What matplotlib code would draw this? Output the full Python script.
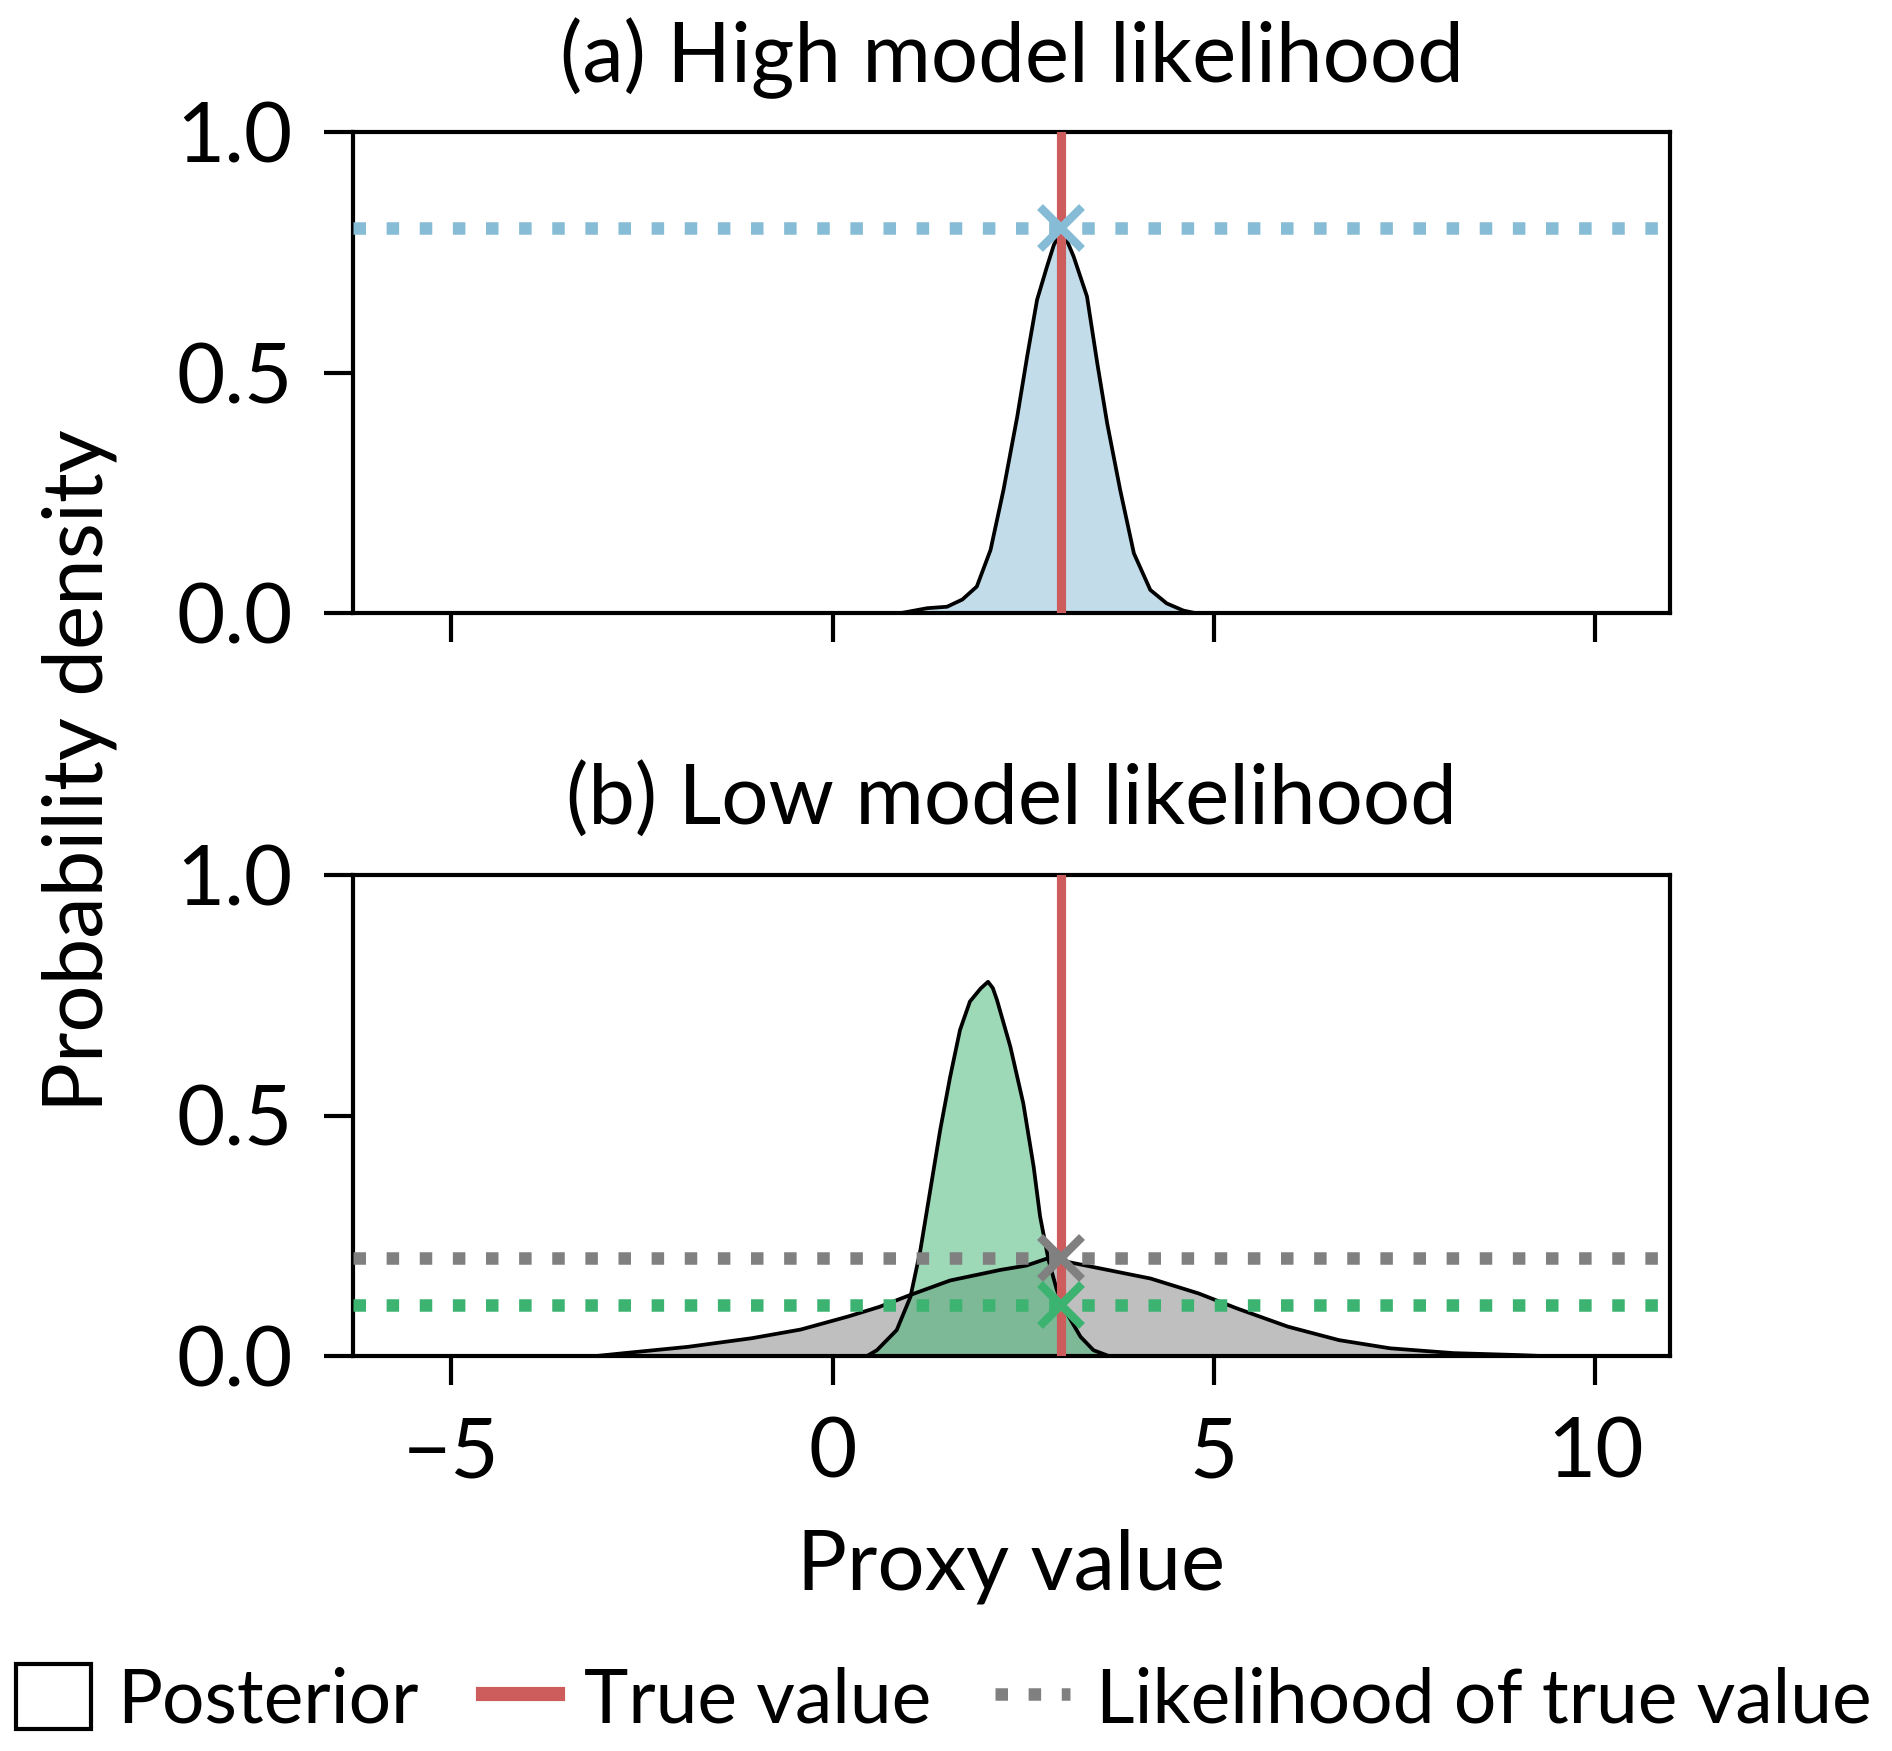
"""Two-panel posterior vs true-value likelihood illustration."""
import matplotlib
matplotlib.use("Agg")
import matplotlib.pyplot as plt
from matplotlib.patches import Patch
from matplotlib.lines import Line2D

plt.rcParams["font.family"] = ["Lato", "DejaVu Sans"]

# ── Data ────────────────────────────────────────────────────────────────────
true_value = 3.0

# (a) high model likelihood: narrow posterior centred on the true value
post_a_x = [0.9, 1.24, 1.50, 1.70, 1.89, 2.07, 2.24, 2.42, 2.55, 2.68, 2.81,
            2.90, 2.985, 3.07, 3.16, 3.335, 3.47, 3.60, 3.77, 3.95, 4.165,
            4.38, 4.60, 4.75]
post_a_y = [0.0, 0.010, 0.013, 0.028, 0.055, 0.131, 0.256, 0.408, 0.533, 0.651,
            0.72, 0.765, 0.79, 0.775, 0.741, 0.658, 0.519, 0.394, 0.256, 0.124,
            0.048, 0.020, 0.005, 0.0]
lik_a = 0.80

# (b) low model likelihood: wide (grey) and narrow offset (green) posteriors
post_wide_x = [-3.1, -2.73, -1.90, -1.06, -0.42, 0.20, 0.61, 1.02, 1.54, 2.20,
               2.54, 2.80, 3.07, 3.51, 4.17, 4.80, 5.30, 5.97, 6.64, 7.31,
               8.14, 8.98, 9.3]
post_wide_y = [0.0, 0.006, 0.019, 0.037, 0.055, 0.082, 0.102, 0.127, 0.157,
               0.179, 0.188, 0.202, 0.196, 0.182, 0.161, 0.130, 0.099, 0.061,
               0.033, 0.016, 0.006, 0.002, 0.0]
lik_wide = 0.203

post_narrow_x = [0.45, 0.58, 0.84, 1.02, 1.15, 1.28, 1.41, 1.54, 1.67, 1.80,
                 1.94, 2.037, 2.10, 2.155, 2.33, 2.50, 2.635, 2.72, 2.83, 2.94,
                 3.07, 3.25, 3.42, 3.62]
post_narrow_y = [0.0, 0.012, 0.054, 0.123, 0.220, 0.345, 0.470, 0.580, 0.678,
                 0.737, 0.764, 0.778, 0.765, 0.740, 0.643, 0.525, 0.394, 0.290,
                 0.200, 0.137, 0.089, 0.040, 0.012, 0.0]
lik_narrow = 0.106

BLUE = "#86bcd5"
GREY = "#808080"
GREEN = "#3cb371"
RED = "#cd5c5c"

xlim = (-6.29, 10.98)

# ── Figure ─────────────────────────────────────────────────────────────────
W, H = 1892, 1751
fig = plt.figure(figsize=(W / 300, H / 300), dpi=300)
ax_a = fig.add_axes([353 / W, 1 - 613 / H, 1317 / W, 481 / H])
ax_b = fig.add_axes([353 / W, 1 - 1356 / H, 1317 / W, 481 / H])


def posterior(ax, x, y, color):
    ax.fill_between(x, y, 0, color=color, alpha=0.5, lw=0, zorder=2)
    ax.plot(x, y, color="black", lw=0.9, zorder=3, solid_joinstyle="round")


def likelihood(ax, val, color):
    ax.axhline(val, color=color, ls=":", lw=3, zorder=4)
    ax.plot([true_value], [val], "x", color=color, ms=10, mew=2, zorder=6)


posterior(ax_a, post_a_x, post_a_y, BLUE)
ax_a.axvline(true_value, color=RED, lw=2.2, zorder=5)
likelihood(ax_a, lik_a, BLUE)

posterior(ax_b, post_wide_x, post_wide_y, GREY)
posterior(ax_b, post_narrow_x, post_narrow_y, GREEN)
ax_b.axvline(true_value, color=RED, lw=2.2, zorder=5)
likelihood(ax_b, lik_wide, GREY)
likelihood(ax_b, lik_narrow, GREEN)

for ax, title in ((ax_a, "(a) High model likelihood"),
                  (ax_b, "(b) Low model likelihood")):
    ax.set_xlim(*xlim)
    ax.set_ylim(0, 1)
    ax.set_xticks([-5, 0, 5, 10])
    ax.set_yticks([0, 0.5, 1.0])
    ax.set_yticklabels(["0.0", "0.5", "1.0"])
    ax.tick_params(length=7, width=1, labelsize=20, pad=7.5, color="black")
    for sp in ax.spines.values():
        sp.set_linewidth(1)
    ax.set_title(title, fontsize=20, pad=12)
ax_a.tick_params(labelbottom=False)
ax_b.set_xticklabels(["\u22125", "0", "5", "10"])

fig.text(80 / W, 1 - 771 / H, "Probability density", rotation=90,
         ha="center", va="center", fontsize=20)
fig.text(1011 / W, 1 - 1590 / H, "Proxy value", ha="center",
         va="baseline", fontsize=20)

handles = [Patch(facecolor="none", edgecolor="black", lw=1),
           Line2D([], [], color=RED, lw=3.4),
           Line2D([], [], color=GREY, lw=3, ls=":")]
labels = ["Posterior", "True value", "Likelihood of true value"]
fig.legend(handles, labels, loc="center", bbox_to_anchor=(0.499, 1 - 1700 / H),
           ncol=3, frameon=False, fontsize=18, handlelength=1.0,
           handleheight=0.95, handletextpad=0.35, columnspacing=0.85)

fig.savefig("out.png", dpi=300)
